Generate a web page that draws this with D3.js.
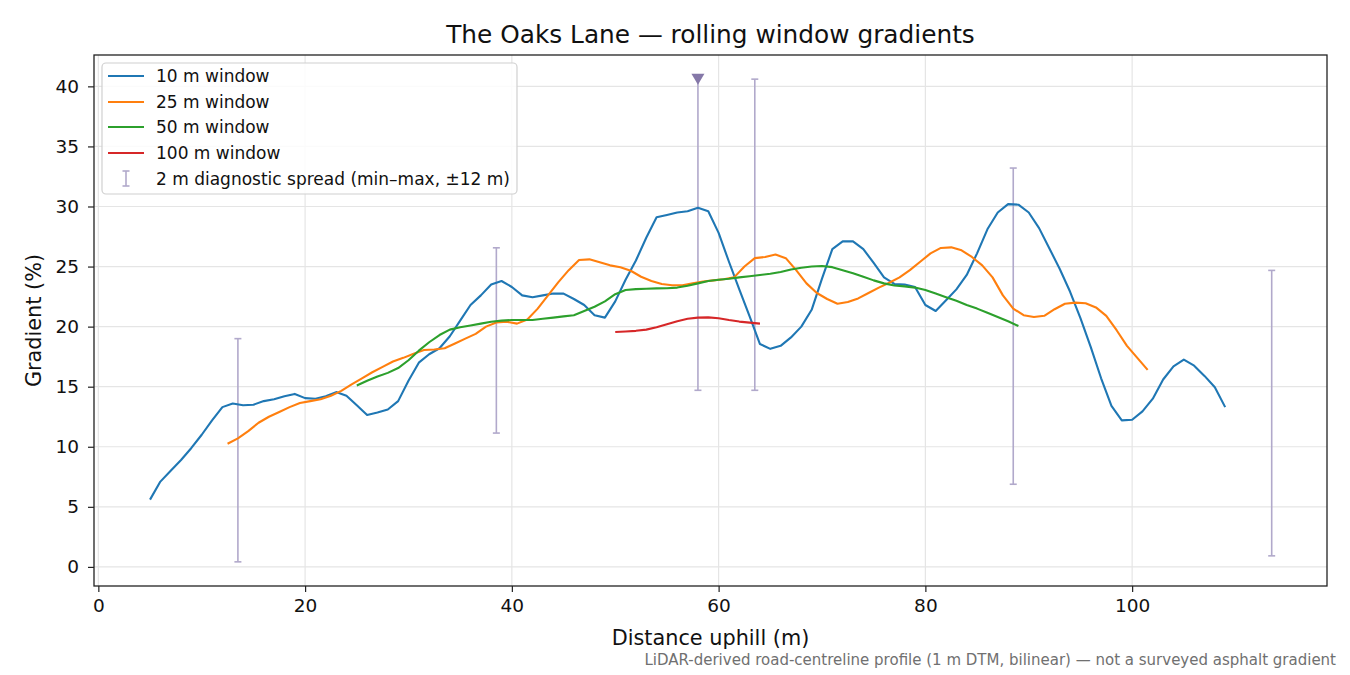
<!DOCTYPE html>
<html>
<head>
<meta charset="utf-8">
<script src="https://cdn.jsdelivr.net/npm/d3@7/dist/d3.min.js"></script>
<style>
  html, body { margin: 0; padding: 0; background: #fff; }
  svg { display: block; font-family: "DejaVu Sans", sans-serif; }
</style>
</head>
<body>
<svg id="chart" width="1350" height="675"></svg>
<script>
// 10 m window, sampled every metre from 5 m to 109 m
const x10 = d3.range(5, 110);
const g10 = [
  5.6, 7.1, 8.0, 8.9, 9.9, 11.0, 12.2, 13.3, 13.6, 13.45,
  13.5, 13.8, 13.95, 14.2, 14.4, 14.05, 14.0, 14.2, 14.55, 14.25,
  13.45, 12.65, 12.85, 13.1, 13.8, 15.5, 17.0, 17.7, 18.2, 19.2,
  20.5, 21.8, 22.6, 23.5, 23.8, 23.3, 22.6, 22.45, 22.6, 22.75,
  22.75, 22.3, 21.8, 20.95, 20.75, 22.1, 23.9, 25.5, 27.4, 29.1,
  29.3, 29.5, 29.6, 29.9, 29.6, 27.8, 25.4, 23.1, 20.85, 18.55,
  18.15, 18.4, 19.1, 20.0, 21.4, 24.0, 26.45, 27.1, 27.1, 26.45,
  25.3, 24.1, 23.55, 23.5, 23.3, 21.8, 21.3, 22.2, 23.1, 24.3,
  26.1, 28.1, 29.5, 30.2, 30.15, 29.5, 28.2, 26.5, 24.8, 22.9,
  20.7, 18.3, 15.7, 13.4, 12.2, 12.25, 12.95, 14.0, 15.6, 16.7,
  17.25, 16.75, 15.9, 14.95, 13.3
];

// 25 m window, 12.5 m to 101.5 m
const x25 = d3.range(12.5, 102, 1);
const g25 = [
  10.25, 10.7, 11.3, 12.0, 12.5, 12.9, 13.3, 13.65, 13.8, 13.95,
  14.25, 14.65, 15.2, 15.7, 16.2, 16.65, 17.1, 17.4, 17.75, 18.05,
  18.1, 18.2, 18.6, 19.0, 19.4, 20.0, 20.35, 20.4, 20.25, 20.6,
  21.5, 22.6, 23.7, 24.7, 25.55, 25.6, 25.35, 25.1, 24.95, 24.65,
  24.15, 23.8, 23.55, 23.45, 23.45, 23.6, 23.75, 23.85, 23.95, 24.1,
  25.0, 25.7, 25.8, 26.0, 25.7, 24.7, 23.6, 22.8, 22.3, 21.9,
  22.05, 22.35, 22.8, 23.25, 23.65, 24.1, 24.7, 25.4, 26.1, 26.55,
  26.6, 26.35, 25.8, 25.1, 24.1, 22.6, 21.5, 20.95, 20.8, 20.9,
  21.45, 21.9, 22.0, 21.95, 21.6, 20.9, 19.7, 18.4, 17.4, 16.4
];

// 50 m window, 25 m to 89 m
const x50 = d3.range(25, 90);
const g50 = [
  15.1, 15.5, 15.85, 16.15, 16.55, 17.2, 18.0, 18.7, 19.3, 19.75,
  19.95, 20.1, 20.25, 20.4, 20.5, 20.55, 20.55, 20.55, 20.65, 20.75,
  20.85, 20.95, 21.3, 21.65, 22.1, 22.7, 23.05, 23.12, 23.15, 23.18,
  23.2, 23.25, 23.4, 23.6, 23.8, 23.9, 23.98, 24.1, 24.2, 24.3,
  24.4, 24.55, 24.75, 24.9, 25.0, 25.05, 24.95, 24.7, 24.45, 24.15,
  23.85, 23.6, 23.42, 23.35, 23.25, 23.05, 22.75, 22.45, 22.15, 21.8,
  21.5, 21.15, 20.8, 20.45, 20.05
];

// 100 m window, 50 m to 64 m
const x100 = d3.range(50, 65);
const g100 = [
  19.55, 19.6, 19.65, 19.75, 19.95, 20.2, 20.45, 20.65, 20.75, 20.77,
  20.7, 20.55, 20.42, 20.33, 20.25
];

// 2 m diagnostic spread (min–max, ±12 m)
const spreadX   = [13.5, 38.5, 58, 63.5, 88.5, 113.5];
const spreadLo  = [0.42, 11.14, 14.7, 14.7, 6.88, 0.92];
const spreadHi  = [19.0, 26.56, 40.6, 40.6, 33.2, 24.68];
const spreadTop = [false, false, true, false, false, false];

const seriesNames  = ['10 m window', '25 m window', '50 m window', '100 m window'];
const seriesColors = ['#1f77b4', '#ff7f0e', '#2ca02c', '#d62728'];
const xTicks = [0, 20, 40, 60, 80, 100];
const yTicks = [0, 5, 10, 15, 20, 25, 30, 35, 40];

const m = { left: 94, right: 1327, top: 55, bottom: 586 };

const svg = d3.select('#chart');

const x = d3.scaleLinear().domain([-0.42, 118.85]).range([m.left, m.right]);
const y = d3.scaleLinear().domain([-1.59, 42.61]).range([m.bottom, m.top]);

// grid
const grid = svg.append('g').attr('stroke', '#e5e5e5').attr('stroke-width', 1.2);
grid.selectAll('.gx').data(xTicks).join('line')
  .attr('x1', d => x(d)).attr('x2', d => x(d))
  .attr('y1', m.top).attr('y2', m.bottom);
grid.selectAll('.gy').data(yTicks).join('line')
  .attr('y1', d => y(d)).attr('y2', d => y(d))
  .attr('x1', m.left).attr('x2', m.right);

// spread bars
const spreadColor = '#b1a9cb';
const bars = svg.append('g').attr('stroke', spreadColor).attr('stroke-width', 1.6);
spreadX.forEach((sx, i) => {
  const cx = x(sx);
  bars.append('line').attr('x1', cx).attr('x2', cx)
    .attr('y1', y(spreadLo[i])).attr('y2', y(spreadHi[i]));
  bars.append('line').attr('x1', cx - 3.5).attr('x2', cx + 3.5)
    .attr('y1', y(spreadLo[i])).attr('y2', y(spreadLo[i]));
  if (!spreadTop[i]) {
    bars.append('line').attr('x1', cx - 3.5).attr('x2', cx + 3.5)
      .attr('y1', y(spreadHi[i])).attr('y2', y(spreadHi[i]));
  } else {
    const ty = y(spreadHi[i]);
    svg.append('path')
      .attr('d', `M${cx - 6.5},${ty - 5.5} L${cx + 6.5},${ty - 5.5} L${cx},${ty + 5.5} Z`)
      .attr('fill', '#8578a8');
  }
});

// lines
const line = d3.line().x(d => x(d[0])).y(d => y(d[1]));
const seriesData = [
  d3.zip(x10, g10), d3.zip(x25, g25), d3.zip(x50, g50), d3.zip(x100, g100)
];
seriesData.forEach((data, i) => {
  svg.append('path').datum(data)
    .attr('d', line)
    .attr('fill', 'none')
    .attr('stroke', seriesColors[i])
    .attr('stroke-width', 2.1)
    .attr('stroke-linejoin', 'round');
});

// axes
const xAxis = svg.append('g').attr('transform', `translate(0,${m.bottom})`)
  .call(d3.axisBottom(x).tickValues(xTicks).tickSize(6).tickPadding(7));
const yAxis = svg.append('g').attr('transform', `translate(${m.left},0)`)
  .call(d3.axisLeft(y).tickValues(yTicks).tickSize(6).tickPadding(9));
[xAxis, yAxis].forEach(a => {
  a.select('.domain').remove();
  a.selectAll('line').attr('stroke', '#222').attr('stroke-width', 1.2);
  a.selectAll('text').attr('font-family', 'DejaVu Sans, sans-serif')
    .attr('font-size', 18.5).attr('fill', '#111');
});

svg.append('rect')
  .attr('x', m.left).attr('y', m.top)
  .attr('width', m.right - m.left).attr('height', m.bottom - m.top)
  .attr('fill', 'none').attr('stroke', '#222').attr('stroke-width', 1.3);

// legend
const lg = svg.append('g');
lg.append('rect')
  .attr('x', 102).attr('y', 63).attr('width', 415).attr('height', 131)
  .attr('rx', 4).attr('fill', 'rgba(255,255,255,0.85)')
  .attr('stroke', '#d0d0d0').attr('stroke-width', 1.2);
const rowY = [76, 102, 127, 153, 179];
seriesNames.forEach((name, i) => {
  lg.append('line').attr('x1', 108).attr('x2', 144)
    .attr('y1', rowY[i]).attr('y2', rowY[i])
    .attr('stroke', seriesColors[i]).attr('stroke-width', 2.1);
  lg.append('text').attr('x', 156).attr('y', rowY[i]).attr('dy', '0.35em')
    .attr('font-size', 17).attr('fill', '#111').text(name);
});
lg.append('line').attr('x1', 126).attr('x2', 126).attr('y1', 171).attr('y2', 186)
  .attr('stroke', spreadColor).attr('stroke-width', 1.6);
[171, 186].forEach(yy => lg.append('line')
  .attr('x1', 122.5).attr('x2', 129.5).attr('y1', yy).attr('y2', yy)
  .attr('stroke', spreadColor).attr('stroke-width', 1.6));
lg.append('text').attr('x', 156).attr('y', rowY[4]).attr('dy', '0.35em')
  .attr('font-size', 17).attr('fill', '#111')
  .text('2 m diagnostic spread (min–max, ±12 m)');

// titles
svg.append('text').attr('x', (m.left + m.right) / 2).attr('y', 43)
  .attr('text-anchor', 'middle').attr('font-size', 24.8).attr('fill', '#111')
  .text('The Oaks Lane — rolling window gradients');
svg.append('text').attr('x', (m.left + m.right) / 2).attr('y', 645)
  .attr('text-anchor', 'middle').attr('font-size', 20.8).attr('fill', '#111')
  .text('Distance uphill (m)');
svg.append('text')
  .attr('transform', `translate(41,${(m.top + m.bottom) / 2}) rotate(-90)`)
  .attr('text-anchor', 'middle').attr('font-size', 20.8).attr('fill', '#111')
  .text('Gradient (%)');
svg.append('text').attr('x', 1336).attr('y', 665)
  .attr('text-anchor', 'end').attr('font-size', 15).attr('fill', '#707070')
  .text('LiDAR-derived road-centreline profile (1 m DTM, bilinear) — not a surveyed asphalt gradient');
</script>
</body>
</html>
